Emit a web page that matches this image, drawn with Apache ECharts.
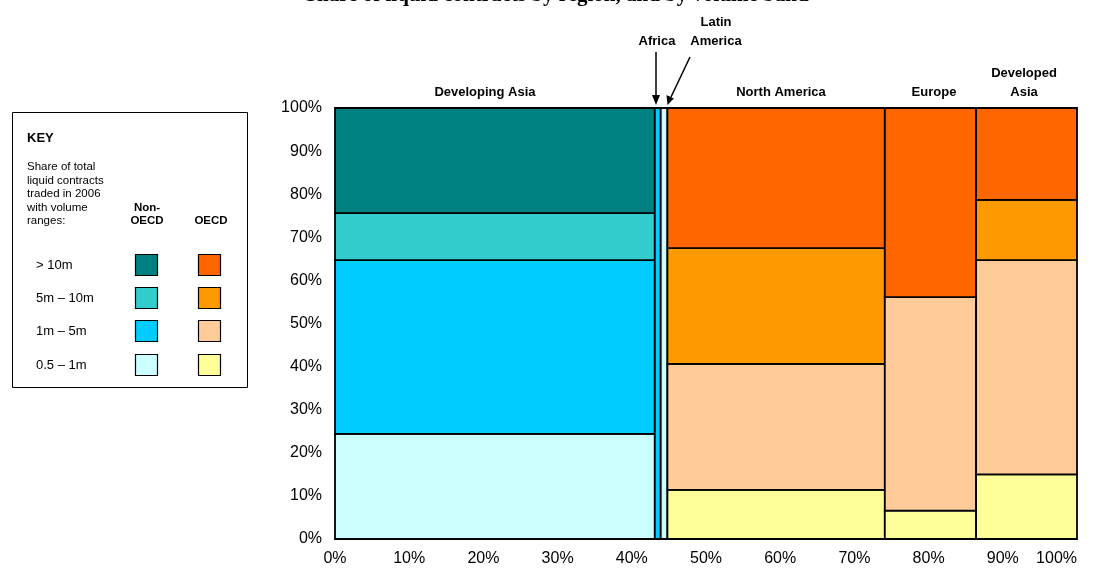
<!DOCTYPE html>
<html><head><meta charset="utf-8">
<script src="https://cdn.jsdelivr.net/npm/echarts@6/dist/echarts.min.js"></script>
<style>html,body{margin:0;padding:0;background:#fff;overflow:hidden}#c{width:1094px;height:570px}</style>
</head><body><div id="c"></div>
<script>
// ---- data ----
var regions = ['Developing Asia', 'Africa', 'Latin America', 'North America', 'Europe', 'Developed Asia'];
var regionShare = [43.1, 0.8, 0.9, 29.3, 12.3, 13.6];   // % of total contracts (column widths)
var isOECD = [false, false, false, true, true, true];
var bandNames = ['0.5 – 1m', '1m – 5m', '5m – 10m', '> 10m'];
var band05to1 = [24.4, 0, 100, 11.4, 6.6, 15.0];
var band1to5 = [40.3, 100, 0, 29.2, 49.5, 49.7];
var band5to10 = [10.9, 0, 0, 26.9, 0, 14.0];
var bandOver10 = [24.4, 0, 0, 32.5, 43.9, 21.3];
var xTicks = [0, 10, 20, 30, 40, 50, 60, 70, 80, 90, 100];

var nonOecdColors = ['#CCFFFF', '#00CCFF', '#33CCCC', '#008080'];
var oecdColors = ['#FFFF99', '#FFCC99', '#FF9900', '#FF6600'];

var bands = [band05to1, band1to5, band5to10, bandOver10];
var cells = [];
var x0 = 0;
for (var i = 0; i < regions.length; i++) {
  var y0 = 0;
  for (var b = 0; b < bands.length; b++) {
    var v = bands[b][i];
    if (v > 0) {
      cells.push({ value: [x0, x0 + regionShare[i], y0, y0 + v, b, isOECD[i] ? 1 : 0] });
      y0 += v;
    }
  }
  x0 += regionShare[i];
}

var chart = echarts.init(document.getElementById('c'));
var txt = function (s, x, y, extra) {
  return Object.assign({ type: 'text', x: x, y: y, style: Object.assign({ text: s, fill: '#000',
    font: 'bold 13px "Liberation Sans", Arial, sans-serif', align: 'center', verticalAlign: 'middle' }, extra || {}) });
};
var small = '11.5px "Liberation Sans", Arial, sans-serif';
var smallB = 'bold 11.5px "Liberation Sans", Arial, sans-serif';
var rowF = '13px "Liberation Sans", Arial, sans-serif';
var keyRows = [265.5, 298.5, 331.5, 365.5];
var graphics = [
  txt('Share of liquid contracts by region, and by volume band', 557, 6, { font: 'bold 21px "Liberation Serif", "Times New Roman", serif', verticalAlign: 'bottom' }),
  txt('Developing Asia', 485, 92),
  txt('North America', 781, 92),
  txt('Europe', 934, 92),
  txt('Developed', 1024, 73),
  txt('Asia', 1024, 92),
  txt('Africa', 657, 41),
  txt('Latin', 716, 22),
  txt('America', 716, 41),
  { type: 'line', shape: { x1: 656, y1: 52, x2: 656, y2: 97 }, style: { stroke: '#000', lineWidth: 1.5 } },
  { type: 'polygon', shape: { points: [[652, 95], [660, 95], [656, 105]] }, style: { fill: '#000' } },
  { type: 'line', shape: { x1: 690, y1: 57, x2: 671, y2: 97 }, style: { stroke: '#000', lineWidth: 1.5 } },
  { type: 'polygon', shape: { points: [[666.5, 95], [673.8, 98.5], [667.5, 105]] }, style: { fill: '#000' } },
  // key box
  { type: 'rect', shape: { x: 12.5, y: 112.5, width: 235, height: 275 }, style: { fill: '#fff', stroke: '#000', lineWidth: 1 } },
  txt('KEY', 27, 138, { align: 'left' }),
  txt('Share of total', 27, 167, { align: 'left', font: small }),
  txt('liquid contracts', 27, 180.5, { align: 'left', font: small }),
  txt('traded in 2006', 27, 194, { align: 'left', font: small }),
  txt('with volume', 27, 207.5, { align: 'left', font: small }),
  txt('ranges:', 27, 221, { align: 'left', font: small }),
  txt('Non-', 147, 207.5, { font: smallB }),
  txt('OECD', 147, 221, { font: smallB }),
  txt('OECD', 211, 221, { font: smallB })
];
for (var r = 0; r < 4; r++) {
  var bi = 3 - r;
  graphics.push(txt(bandNames[bi], 36, keyRows[r], { align: 'left', font: rowF }));
  graphics.push({ type: 'rect', shape: { x: 135.5, y: keyRows[r] - 11, width: 22, height: 21 }, style: { fill: nonOecdColors[bi], stroke: '#000', lineWidth: 1.2 } });
  graphics.push({ type: 'rect', shape: { x: 198.5, y: keyRows[r] - 11, width: 22, height: 21 }, style: { fill: oecdColors[bi], stroke: '#000', lineWidth: 1.2 } });
}

var axisLabelFont = { color: '#000', fontSize: 16, fontFamily: '"Liberation Sans", Arial, sans-serif' };
chart.setOption({
  animation: false,
  grid: { left: 335, right: 17, top: 108, bottom: 31, containLabel: false, outerBoundsMode: 'none' },
  xAxis: { type: 'value', min: 0, max: 100, interval: 10,
    axisLine: { show: false }, axisTick: { show: false }, splitLine: { show: false },
    axisLabel: Object.assign({ formatter: '{value}%', margin: 12, alignMaxLabel: 'right' }, axisLabelFont) },
  yAxis: { type: 'value', min: 0, max: 100, interval: 10,
    axisLine: { show: false }, axisTick: { show: false }, splitLine: { show: false },
    axisLabel: Object.assign({ formatter: '{value}%', margin: 13 }, axisLabelFont) },
  series: [{
    type: 'custom',
    data: cells,
    encode: { x: [0, 1], y: [2, 3] },
    renderItem: function (params, api) {
      var p0 = api.coord([api.value(0), api.value(3)]);
      var p1 = api.coord([api.value(1), api.value(2)]);
      var b = api.value(4), o = api.value(5);
      return { type: 'rect',
        shape: { x: p0[0], y: p0[1], width: p1[0] - p0[0], height: p1[1] - p0[1] },
        style: { fill: o ? oecdColors[b] : nonOecdColors[b], stroke: '#000', lineWidth: 1.8 } };
    }
  }],
  graphic: graphics
});
</script></body></html>
